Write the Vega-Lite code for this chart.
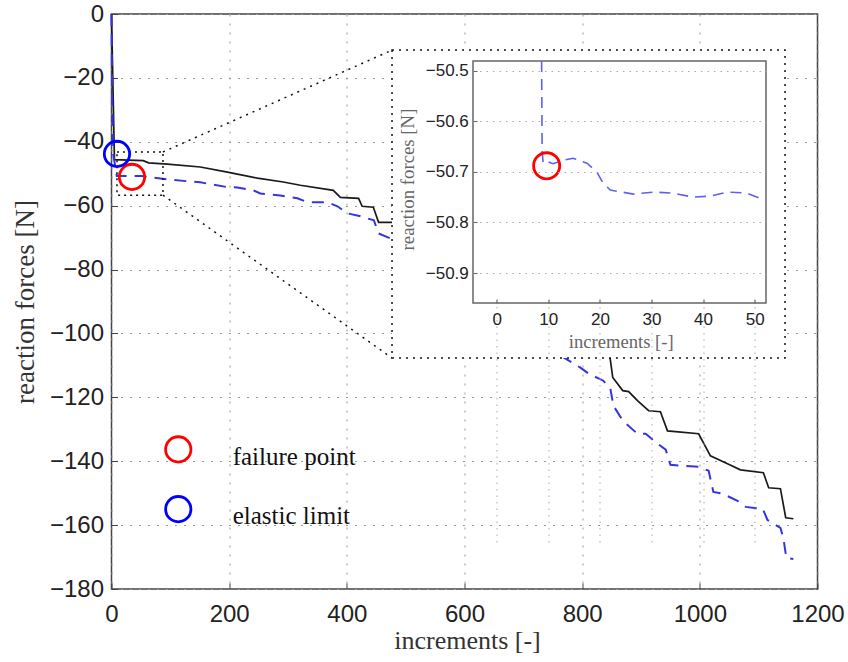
{
  "$schema": "https://vega.github.io/schema/vega-lite/v6.json",
  "width": 706,
  "height": 575,
  "autosize": {"type": "none"},
  "padding": {"left": 111.5, "top": 14, "right": 30.5, "bottom": 73},
  "background": "white",
  "config": {"view": {"stroke": "#444", "strokeWidth": 1.5}},
  "datasets": {
    "solid": [
      {"x": 0, "y": 0}, {"x": 5, "y": -45.6}, {"x": 54, "y": -45.9}, {"x": 63, "y": -46.6}, {"x": 95, "y": -47.0},
      {"x": 151, "y": -47.9}, {"x": 197, "y": -49.5}, {"x": 248, "y": -51.4}, {"x": 292, "y": -52.6}, {"x": 321, "y": -53.6},
      {"x": 377, "y": -55.2}, {"x": 389, "y": -57.4}, {"x": 420, "y": -57.7}, {"x": 426, "y": -60.2}, {"x": 445, "y": -60.5},
      {"x": 454, "y": -65.2}, {"x": 479, "y": -65.2}, {"x": 847, "y": -107.1}, {"x": 852, "y": -113.8}, {"x": 869, "y": -117.9},
      {"x": 879, "y": -118.2}, {"x": 894, "y": -121.0}, {"x": 913, "y": -124.2}, {"x": 933, "y": -124.5}, {"x": 945, "y": -130.5},
      {"x": 998, "y": -131.4}, {"x": 1018, "y": -138.3}, {"x": 1047, "y": -140.8}, {"x": 1069, "y": -142.7}, {"x": 1108, "y": -143.6},
      {"x": 1117, "y": -148.3}, {"x": 1137, "y": -148.6}, {"x": 1146, "y": -157.7}, {"x": 1159, "y": -158.0}
    ],
    "dashed": [
      {"x": 0, "y": 0}, {"x": 1, "y": -24}, {"x": 3, "y": -44}, {"x": 8.7, "y": -50.3}, {"x": 9, "y": -50.68},
      {"x": 13, "y": -50.68}, {"x": 20.6, "y": -50.72}, {"x": 30, "y": -50.74}, {"x": 51, "y": -50.75}, {"x": 95, "y": -51.8},
      {"x": 151, "y": -52.7}, {"x": 197, "y": -54.2}, {"x": 214, "y": -54.3}, {"x": 241, "y": -55.2}, {"x": 253, "y": -56.2},
      {"x": 287, "y": -56.8}, {"x": 316, "y": -57.7}, {"x": 333, "y": -58.9}, {"x": 367, "y": -58.9}, {"x": 384, "y": -60.2},
      {"x": 401, "y": -62.4}, {"x": 423, "y": -63.3}, {"x": 446, "y": -64.6}, {"x": 454, "y": -68.7}, {"x": 479, "y": -70.6},
      {"x": 763, "y": -106.9}, {"x": 797, "y": -110.7}, {"x": 811, "y": -112.6}, {"x": 836, "y": -114.8}, {"x": 848, "y": -117.3},
      {"x": 853, "y": -122.6}, {"x": 869, "y": -127.3}, {"x": 894, "y": -131.4}, {"x": 908, "y": -131.4}, {"x": 928, "y": -134.5},
      {"x": 942, "y": -136.4}, {"x": 950, "y": -141.1}, {"x": 970, "y": -141.4}, {"x": 998, "y": -141.7}, {"x": 1015, "y": -143.0},
      {"x": 1023, "y": -149.6}, {"x": 1039, "y": -150.2}, {"x": 1064, "y": -152.4}, {"x": 1078, "y": -154.3}, {"x": 1107, "y": -154.9},
      {"x": 1115, "y": -158.4}, {"x": 1137, "y": -160.9}, {"x": 1142, "y": -164.0}, {"x": 1147, "y": -170.3}, {"x": 1159, "y": -170.6}
    ],
    "inset": [
      {"x": 8.7, "y": -50.4808}, {"x": 8.8, "y": -50.657}, {"x": 9, "y": -50.683}, {"x": 9.9, "y": -50.68}, {"x": 10.9, "y": -50.684},
      {"x": 12.9, "y": -50.677}, {"x": 14.8, "y": -50.673}, {"x": 17.5, "y": -50.683}, {"x": 19.4, "y": -50.7}, {"x": 20.6, "y": -50.722},
      {"x": 22, "y": -50.736}, {"x": 26.5, "y": -50.744}, {"x": 30.4, "y": -50.74}, {"x": 34.2, "y": -50.742}, {"x": 38.1, "y": -50.75},
      {"x": 41.4, "y": -50.748}, {"x": 44.7, "y": -50.74}, {"x": 48.5, "y": -50.742}, {"x": 51.4, "y": -50.754}
    ],
    "zoomrect": [{"x": 9.3, "x2": 87.5, "y": -43.2, "y2": -56.7}],
    "insetbox": [{"x": 476.8, "x2": 1144.8, "y": -11.3, "y2": -107.7}],
    "connectors": [
      {"x": 87.5, "y": -43.2, "x2": 476.8, "y2": -11.3},
      {"x": 87.5, "y": -56.7, "x2": 476.8, "y2": -107.7}
    ],
    "marks": [
      {"kind": "failure point", "x": 34.8, "y": -51.0},
      {"kind": "elastic limit", "x": 9.3, "y": -43.8},
      {"kind": "failure point", "x": 113.5, "y": -136.3},
      {"kind": "elastic limit", "x": 113.5, "y": -155.0}
    ],
    "legendtext": [
      {"kind": "failure point", "x": 206, "y": -141.2},
      {"kind": "elastic limit", "x": 206, "y": -159.7}
    ],
    "insetframe": [{"x": -4.6, "x2": 52.2, "y": -50.9593, "y2": -50.4808}],
    "insetmark": [{"kind": "failure point", "x": 9.68, "y": -50.688}]
  },
  "resolve": {"scale": {"x": "independent", "y": "independent"}, "axis": {"x": "independent", "y": "independent"}},
  "layer": [
    {
      "layer": [
        {
          "data": {"name": "solid"},
          "mark": {"type": "line", "color": "#1a1a1a", "strokeWidth": 1.7},
          "encoding": {
            "x": {"field": "x", "type": "quantitative", "scale": {"domain": [0, 1200], "nice": false, "zero": false},
              "axis": {"values": [0, 200, 400, 600, 800, 1000, 1200], "format": "d", "grid": true, "gridColor": "#999", "gridDash": [2, 7], "gridWidth": 1,
                "domain": false, "tickSize": -6, "tickColor": "#444", "labelFont": "Liberation Sans", "labelFontSize": 24, "labelColor": "#222",
                "labelPadding": 19, "labelFlush": false, "labelOverlap": false,
                "title": "increments [-]", "titleFont": "Liberation Serif", "titleFontSize": 26, "titleFontWeight": "normal", "titleColor": "#333",
                "titleX": 355.5, "titleY": 59, "titleBaseline": "alphabetic", "titleAlign": "center"}},
            "y": {"field": "y", "type": "quantitative", "scale": {"domain": [-180, 0], "nice": false, "zero": false},
              "axis": {"values": [-180, -160, -140, -120, -100, -80, -60, -40, -20, 0], "grid": true, "gridColor": "#999", "gridDash": [2, 7], "gridWidth": 1,
                "domain": false, "tickSize": -6, "tickColor": "#444", "labelFont": "Liberation Sans", "labelFontSize": 24, "labelColor": "#222",
                "labelPadding": 14, "labelFlush": false, "labelOverlap": false,
                "title": "reaction forces [N]", "titleFont": "Liberation Serif", "titleFontSize": 27, "titleFontWeight": "normal", "titleColor": "#333",
                "titleX": -78.5, "titleY": 287.5, "titleAngle": -90, "titleBaseline": "alphabetic", "titleAlign": "center"}}
          }
        },
        {
          "data": {"name": "dashed"},
          "mark": {"type": "line", "color": "#3535e0", "strokeWidth": 2, "strokeDash": [12, 8]},
          "encoding": {
            "x": {"field": "x", "type": "quantitative", "scale": {"domain": [0, 1200], "nice": false, "zero": false}},
            "y": {"field": "y", "type": "quantitative", "scale": {"domain": [-180, 0], "nice": false, "zero": false}}
          }
        },
        {
          "data": {"name": "zoomrect"},
          "mark": {"type": "rect", "fill": null, "fillOpacity": 0, "stroke": "#111", "strokeWidth": 1.5, "strokeDash": [2, 4]},
          "encoding": {
            "x": {"field": "x", "type": "quantitative", "scale": {"domain": [0, 1200], "nice": false, "zero": false}},
            "x2": {"field": "x2"},
            "y": {"field": "y", "type": "quantitative", "scale": {"domain": [-180, 0], "nice": false, "zero": false}},
            "y2": {"field": "y2"}
          }
        },
        {
          "data": {"name": "connectors"},
          "mark": {"type": "rule", "color": "#111", "strokeWidth": 1.5, "strokeDash": [2, 5]},
          "encoding": {
            "x": {"field": "x", "type": "quantitative", "scale": {"domain": [0, 1200], "nice": false, "zero": false}},
            "x2": {"field": "x2"},
            "y": {"field": "y", "type": "quantitative", "scale": {"domain": [-180, 0], "nice": false, "zero": false}},
            "y2": {"field": "y2"}
          }
        },
        {
          "data": {"name": "marks"},
          "mark": {"type": "point", "shape": "circle", "filled": false, "size": 640, "strokeWidth": 2.8, "opacity": 1},
          "encoding": {
            "x": {"field": "x", "type": "quantitative", "scale": {"domain": [0, 1200], "nice": false, "zero": false}},
            "y": {"field": "y", "type": "quantitative", "scale": {"domain": [-180, 0], "nice": false, "zero": false}},
            "color": {"field": "kind", "type": "nominal", "scale": {"domain": ["failure point", "elastic limit"], "range": ["#ff0000", "#0000ff"]}, "legend": null}
          }
        },
        {
          "data": {"name": "legendtext"},
          "mark": {"type": "text", "font": "Liberation Serif", "fontSize": 25, "align": "left", "baseline": "alphabetic", "color": "#111"},
          "encoding": {
            "x": {"field": "x", "type": "quantitative", "scale": {"domain": [0, 1200], "nice": false, "zero": false}},
            "y": {"field": "y", "type": "quantitative", "scale": {"domain": [-180, 0], "nice": false, "zero": false}},
            "text": {"field": "kind"}
          }
        },
        {
          "data": {"name": "insetbox"},
          "mark": {"type": "rect", "fill": "white", "stroke": "#111", "strokeWidth": 1.5, "strokeDash": [2, 5]},
          "encoding": {
            "x": {"field": "x", "type": "quantitative", "scale": {"domain": [0, 1200], "nice": false, "zero": false}},
            "x2": {"field": "x2"},
            "y": {"field": "y", "type": "quantitative", "scale": {"domain": [-180, 0], "nice": false, "zero": false}},
            "y2": {"field": "y2"}
          }
        }
      ]
    },
    {
      "layer": [
        {
          "data": {"name": "insetframe"},
          "mark": {"type": "rect", "fill": null, "fillOpacity": 0, "stroke": "#666", "strokeWidth": 1.5},
          "encoding": {
            "x": {"field": "x", "type": "quantitative", "scale": {"domain": [-4.6, 52.2], "range": [361.5, 654.5], "nice": false, "zero": false}},
            "x2": {"field": "x2"},
            "y": {"field": "y", "type": "quantitative", "scale": {"domain": [-50.9593, -50.4808], "range": [289, 47], "nice": false, "zero": false}},
            "y2": {"field": "y2"}
          }
        },
        {
          "data": {"name": "inset"},
          "mark": {"type": "line", "color": "#6060ee", "strokeWidth": 1.6, "strokeDash": [11, 7]},
          "encoding": {
            "x": {"field": "x", "type": "quantitative", "scale": {"domain": [-4.6, 52.2], "range": [361.5, 654.5], "nice": false, "zero": false},
              "axis": {"orient": "bottom", "offset": -286, "values": [0, 10, 20, 30, 40, 50], "grid": true, "gridColor": "#aaa", "gridDash": [1.5, 5], "gridWidth": 1,
                "domain": false, "tickSize": -4, "tickColor": "#666", "labelFont": "Liberation Sans", "labelFontSize": 17, "labelColor": "#222",
                "labelPadding": 12.5, "labelFlush": false, "labelOverlap": false,
                "title": "increments [-]", "titleFont": "Liberation Serif", "titleFontSize": 18.6, "titleFontWeight": "normal", "titleColor": "#666",
                "titleX": 509.2, "titleY": 44, "titleBaseline": "alphabetic", "titleAlign": "center", "zindex": 1}},
            "y": {"field": "y", "type": "quantitative", "scale": {"domain": [-50.9593, -50.4808], "range": [289, 47], "nice": false, "zero": false},
              "axis": {"orient": "left", "offset": -361.5, "values": [-50.9, -50.8, -50.7, -50.6, -50.5], "format": ".1f", "grid": true, "gridColor": "#aaa", "gridDash": [1.5, 5], "gridWidth": 1,
                "domain": false, "tickSize": -4, "tickColor": "#666", "labelFont": "Liberation Sans", "labelFontSize": 17, "labelColor": "#222",
                "labelPadding": 8.7, "labelFlush": false, "labelOverlap": false,
                "title": "reaction forces [N]", "titleFont": "Liberation Serif", "titleFontSize": 18.8, "titleFontWeight": "normal", "titleColor": "#666",
                "titleX": -60, "titleY": 165, "titleAngle": -90, "titleBaseline": "alphabetic", "titleAlign": "center", "zindex": 1}}
          }
        },
        {
          "data": {"name": "insetmark"},
          "mark": {"type": "point", "shape": "circle", "filled": false, "size": 680, "strokeWidth": 2.8, "color": "#ff0000", "opacity": 1},
          "encoding": {
            "x": {"field": "x", "type": "quantitative", "scale": {"domain": [-4.6, 52.2], "range": [361.5, 654.5], "nice": false, "zero": false}},
            "y": {"field": "y", "type": "quantitative", "scale": {"domain": [-50.9593, -50.4808], "range": [289, 47], "nice": false, "zero": false}}
          }
        }
      ]
    }
  ]
}
